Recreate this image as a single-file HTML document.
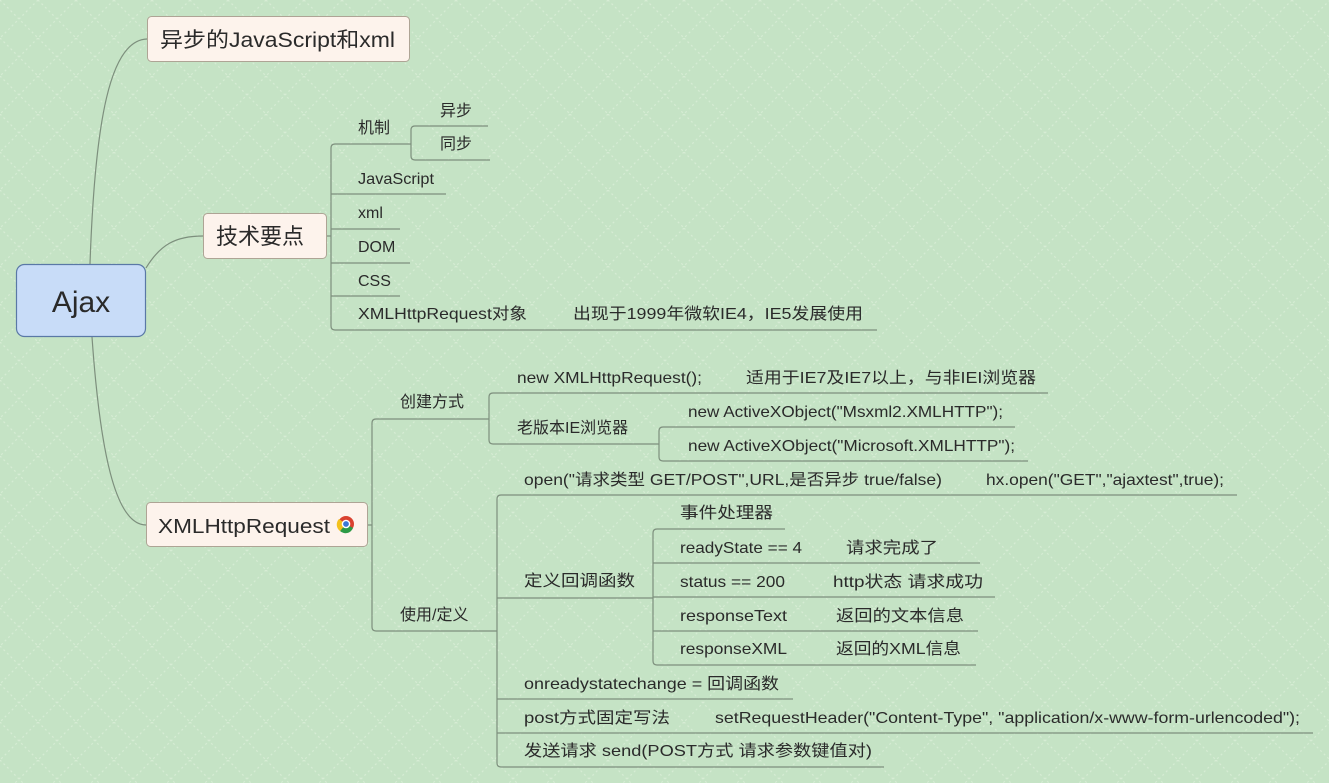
<!DOCTYPE html>
<html><head><meta charset="utf-8"><style>
html,body{margin:0;padding:0;width:1329px;height:783px;overflow:hidden;background:#c5e3c5}
svg{display:block}
text{font-family:"Liberation Sans","Noto Sans CJK SC",sans-serif;fill:#2a2a2a}
.l{font-size:16px}
</style></head><body>
<svg width="1329" height="783" viewBox="0 0 1329 783">
<defs>
<pattern id="p" width="38" height="38" patternUnits="userSpaceOnUse">
<path d="M0,0 L38,38 M38,0 L0,38" stroke="#d6ecd4" stroke-width="1.2" stroke-dasharray="2,3"/>
</pattern>
</defs>
<rect width="1329" height="783" fill="url(#p)"/>
<g fill="none" stroke="#7d8f7d" stroke-width="1.2">
<path d="M90,264 C95,120 110,40 147,39"/>
<path d="M146,268 C160,245 175,236 203,236"/>
<path d="M92,337 C100,450 115,525 146,525"/>
<path d="M327,236 H331"/>
<path d="M411,144 H335 Q331,144 331,148 V326 Q331,330 335,330 H877"/>
<path d="M331,194 H446 M331,229 H400 M331,263 H410 M331,296 H400"/>
<path d="M488,126 H415 Q411,126 411,130 V156 Q411,160 415,160 H490"/>
<path d="M368,525 H372"/>
<path d="M489,419 H376 Q372,419 372,423 V627 Q372,631 376,631 H497"/>
<path d="M1048,393 H493 Q489,393 489,397 V440 Q489,444 493,444 H659"/>
<path d="M1015,427 H663 Q659,427 659,431 V457 Q659,461 663,461 H1028"/>
<path d="M1237,495 H501 Q497,495 497,499 V763 Q497,767 501,767 H884"/>
<path d="M497,598 H653 M497,699 H793 M497,733 H1313"/>
<path d="M785,529 H657 Q653,529 653,533 V661 Q653,665 657,665 H976"/>
<path d="M653,563 H980 M653,597 H995 M653,631 H978"/>
</g>
<rect x="16.5" y="264.5" width="129" height="72" rx="8" fill="#c8dcf8" stroke="#5a78a6" stroke-width="1.2"/>
<text x="81" y="312" font-size="30" text-anchor="middle" fill="#2c3440">Ajax</text>
<rect x="147.5" y="16.5" width="262" height="45" rx="4" fill="#fdf3ec" stroke="#aea495"/>
<text x="160" y="47" font-size="21" textLength="235" lengthAdjust="spacingAndGlyphs">异步的JavaScript和xml</text>
<rect x="203.5" y="213.5" width="123" height="45" rx="4" fill="#fdf3ec" stroke="#aea495"/>
<text x="216" y="244" font-size="22">技术要点</text>
<rect x="146.5" y="502.5" width="221" height="44" rx="4" fill="#fdf3ec" stroke="#aea495"/>
<text x="158" y="533" font-size="20" textLength="172" lengthAdjust="spacingAndGlyphs">XMLHttpRequest</text>
<circle cx="346" cy="524" r="8" fill="#d9412f"/>
<path d="M346,524 L353,528 A8,8 0 0 1 340,531 Z" fill="#2c9a46"/>
<path d="M346,524 L340,531 A8,8 0 0 1 339,519 Z" fill="#f3c11c"/>
<circle cx="346" cy="524" r="3.6" fill="#3a78d6" stroke="#fff" stroke-width="1.4"/>
<g class="l">
<text x="358" y="133">机制</text>
<text x="440" y="116">异步</text>
<text x="440" y="149">同步</text>
<text x="358" y="184" textLength="76" lengthAdjust="spacingAndGlyphs">JavaScript</text>
<text x="358" y="218">xml</text>
<text x="358" y="252">DOM</text>
<text x="358" y="286">CSS</text>
<text x="358" y="319" textLength="169" lengthAdjust="spacingAndGlyphs">XMLHttpRequest对象</text>
<text x="573" y="319" textLength="290" lengthAdjust="spacingAndGlyphs">出现于1999年微软IE4，IE5发展使用</text>
<text x="400" y="407">创建方式</text>
<text x="517" y="383" textLength="185" lengthAdjust="spacingAndGlyphs">new XMLHttpRequest();</text>
<text x="746" y="383" textLength="290" lengthAdjust="spacingAndGlyphs">适用于IE7及IE7以上，与非IEI浏览器</text>
<text x="517" y="433">老版本IE浏览器</text>
<text x="688" y="417" textLength="315" lengthAdjust="spacingAndGlyphs">new ActiveXObject("Msxml2.XMLHTTP");</text>
<text x="688" y="451" textLength="327" lengthAdjust="spacingAndGlyphs">new ActiveXObject("Microsoft.XMLHTTP");</text>
<text x="400" y="620">使用/定义</text>
<text x="524" y="485" textLength="418" lengthAdjust="spacingAndGlyphs">open("请求类型 GET/POST",URL,是否异步 true/false)</text>
<text x="986" y="485" textLength="238" lengthAdjust="spacingAndGlyphs">hx.open("GET","ajaxtest",true);</text>
<text x="524" y="586" textLength="111" lengthAdjust="spacingAndGlyphs">定义回调函数</text>
<text x="680" y="518" textLength="93" lengthAdjust="spacingAndGlyphs">事件处理器</text>
<text x="680" y="553" textLength="122" lengthAdjust="spacingAndGlyphs">readyState == 4</text>
<text x="846" y="553" textLength="92" lengthAdjust="spacingAndGlyphs">请求完成了</text>
<text x="680" y="587" textLength="105" lengthAdjust="spacingAndGlyphs">status == 200</text>
<text x="833" y="587" textLength="150" lengthAdjust="spacingAndGlyphs">http状态 请求成功</text>
<text x="680" y="621" textLength="107" lengthAdjust="spacingAndGlyphs">responseText</text>
<text x="836" y="621" textLength="128" lengthAdjust="spacingAndGlyphs">返回的文本信息</text>
<text x="680" y="654" textLength="107" lengthAdjust="spacingAndGlyphs">responseXML</text>
<text x="836" y="654" textLength="125" lengthAdjust="spacingAndGlyphs">返回的XML信息</text>
<text x="524" y="689" textLength="255" lengthAdjust="spacingAndGlyphs">onreadystatechange = 回调函数</text>
<text x="524" y="723" textLength="146" lengthAdjust="spacingAndGlyphs">post方式固定写法</text>
<text x="715" y="723" textLength="585" lengthAdjust="spacingAndGlyphs">setRequestHeader("Content-Type", "application/x-www-form-urlencoded");</text>
<text x="524" y="756" textLength="348" lengthAdjust="spacingAndGlyphs">发送请求 send(POST方式  请求参数键值对)</text>
</g>
</svg>
</body></html>
